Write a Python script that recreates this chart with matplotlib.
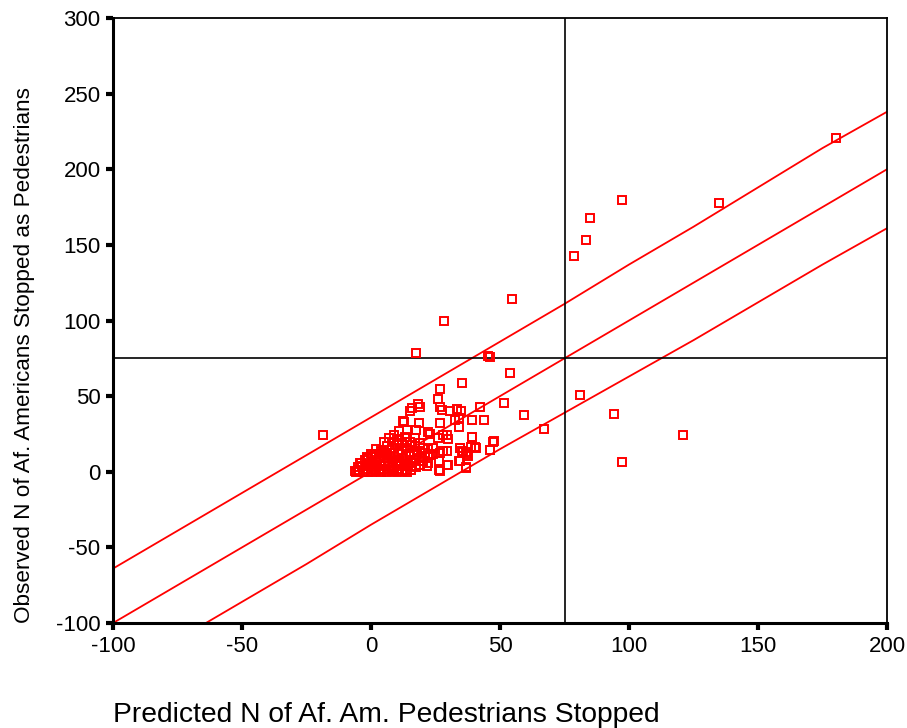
import numpy as np
import matplotlib.pyplot as plt

plt.rcParams['font.family'] = ['Liberation Sans', 'DejaVu Sans']
plt.rcParams['axes.unicode_minus'] = False

# Observed vs predicted points
pred_sparse = [-18.6, 17.4, 28.3, 54.7, 45.2, 46.2, 53.9, 35.1, 26.7, 78.7, 83.3, 84.9,
               97.3, 134.9, 180.2, 81.0, 94.2, 121.0, 97.3, 67.0, 59.3, 51.5, 26.0,
               18.3, 19.0, 15.1, 26.7, 27.5, 33.3, 34.9, 30.5, 42.2, 12.8, 18.6, 26.7,
               32.5, 34.1, 39.1, 43.8, 34.1, 47.7, 39.1, 40.7, 46.1, 34.5, 35.7, 37.6,
               34.5, 36.8, 29.8, 26.7, 24.0, 27.9, 12.4, 15.9]
obs_sparse = [24.5, 78.5, 100.0, 114.5, 76.5, 76.2, 65.5, 58.5, 55.0, 142.5, 153.0, 167.5,
              179.5, 177.5, 220.5, 51.0, 38.5, 24.5, 6.5, 28.0, 37.5, 45.5, 48.0,
              45.0, 42.5, 40.0, 42.5, 41.0, 41.5, 40.0, 40.0, 43.0, 33.0, 32.5, 32.5,
              34.0, 35.5, 34.0, 34.5, 29.5, 20.5, 23.0, 16.0, 14.5, 16.0, 13.0, 10.5,
              7.3, 2.6, 4.6, 0.7, 12.0, 14.0, 33.8, 42.0]

pred_mid = [8.9, 10.9, 14.0, 17.4, 22.1, 22.9, 27.9, 29.5, 26.0, 29.8, 39.1, 47.3, 38.8,
            40.3, 34.5, 35.3, 36.8, 37.2, 46.1, 29.5, 29.5, 26.4, 34.1, 36.8, 26.4, 26.7,
            24.0, 22.1, 19.8, 21.7, 17.1, 14.0, 12.0, 5.4, 3.5, 0.4, -1.6, -4.3, -6.2]
obs_mid = [24.5, 27.2, 27.8, 27.8, 26.5, 25.2, 24.5, 24.5, 22.5, 21.9, 23.2, 19.9, 16.6,
           16.6, 15.9, 13.9, 13.2, 11.9, 14.6, 13.9, 4.6, 1.3, 7.3, 3.3, 7.3, 12.6,
           15.9, 10.6, 7.3, 4.0, 17.2, 19.9, 19.2, 12.6, 11.9, 10.6, 9.3, 6.0, 0.7]

pred_dense = [-6, -5, -4.5, -3, -2, -1, 0, 0.5, 1.5, 2, 3, 4, 5, 6, 7, 7.5, 8, 9, 10, 11, 12, 13, 14, 15.5,
              -5, -3.5, -2, -0.5, 1, 2.5, 4, 5.5, 7, 8.5, 10, 11.5, 13, 14.5, 16, 17.5, 19,
              -4, -2.5, -1, 0.5, 2, 3.5, 5, 6.5, 8, 9.5, 11, 12.5, 14, 15.5, 17, 18.5, 20, 22,
              -1.5, 0, 1.5, 3, 4.5, 6, 7.5, 9, 10.5, 12, 13.5, 15, 16.5, 18, 19.5, 21, 23,
              2, 4, 6, 8, 10, 12, 14, 16, 18, 20, 22,
              5, 7, 9, 11, 13, 15, 17, 19]
obs_dense = [0, 1, 0.5, 0, 1.5, 0, 1, 0, 2, 0.5, 1, 0, 1.5, 0, 1, 2, 0.5, 1, 0, 1.5, 0.5, 1, 0, 1,
             3, 4, 3.5, 5, 3, 4.5, 3.5, 5, 4, 3, 5, 4, 3.5, 5, 4, 3, 4.5,
             6, 7.5, 9, 6.5, 8, 7, 9, 6, 8.5, 7, 6.5, 9, 7.5, 6, 8, 9, 7, 6,
             10, 11.5, 12, 10.5, 13, 11, 12.5, 10, 13, 11.5, 10.5, 12, 13, 11, 10, 12.5, 11,
             15, 14, 17, 15.5, 18, 14.5, 16, 17.5, 14, 16, 15,
             20, 22, 19.5, 21, 23, 20, 22.5, 19]

predicted = pred_sparse + pred_mid + pred_dense
observed = obs_sparse + obs_mid + obs_dense

# Fit line (y = x) and prediction band knots
fit_x = [-100, 200]
fit_y = [-100, 200]
band_x = [-100, -75, -50, -25, 0, 25, 50, 75, 100, 125, 150, 175, 200]
upper_y = [-64, -39, -14, 11, 36, 61, 86, 111, 137, 162, 188, 214, 238]
lower_y = [-136, -111, -86, -61, -35, -10, 15, 39, 63, 87, 112, 137, 161]

ref_value = 75

fig = plt.figure(figsize=(9.07, 7.28), dpi=100)
ax = fig.add_axes([0.1246, 0.1442, 0.8534, 0.8311])

ax.plot(fit_x, fit_y, color='red', lw=1.3)
ax.plot(band_x, upper_y, color='red', lw=1.3)
ax.plot(band_x, lower_y, color='red', lw=1.3)
ax.axvline(ref_value, color='black', lw=1.2)
ax.axhline(ref_value, color='black', lw=1.2)
ax.plot(predicted, observed, 's', ls='none', mfc='none', mec='red', ms=6.3, mew=1.4)

ax.set_xlim(-100, 200)
ax.set_ylim(-100, 300)
ax.set_xticks(np.arange(-100, 201, 50))
ax.set_yticks(np.arange(-100, 301, 50))
ax.tick_params(axis='both', direction='out', length=5, width=3, labelsize=16, pad=4)
for side in ['left', 'bottom']:
    ax.spines[side].set_linewidth(2.2)
for side in ['top', 'right']:
    ax.spines[side].set_linewidth(1.3)

fig.text(0.027, 0.1442, 'Observed N of Af. Americans Stopped as Pedestrians', fontsize=16.2,
         rotation=90, ha='center', va='bottom')
fig.text(0.1246, 0.0, 'Predicted N of Af. Am. Pedestrians Stopped', fontsize=20.3,
         ha='left', va='bottom')

fig.savefig('out.png', dpi=100)
